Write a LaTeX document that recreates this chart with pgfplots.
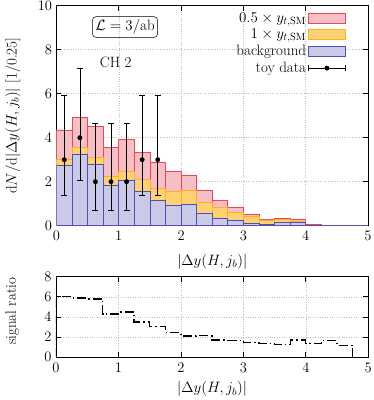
\RequirePackage{fix-cm}
\documentclass[border=0pt]{standalone}
\usepackage{fontspec}
\setmainfont{Latin Modern Roman}
\usepackage{pgfplots}
\pgfplotsset{compat=1.18}
\usepackage{pgfplotstable}
\definecolor{redfill}{RGB}{248,190,198}
\definecolor{rededge}{RGB}{238,70,80}
\definecolor{orfill}{RGB}{254,210,115}
\definecolor{oredge}{RGB}{255,176,30}
\definecolor{blfill}{RGB}{202,202,232}
\definecolor{bledge}{RGB}{80,80,180}
\newcommand{\lf}{\fontsize{15}{18}\selectfont}
\pgfplotstableread{
x red orange blue
0.00 4.35 3.02 2.74
0.25 4.92 3.56 3.26
0.50 4.53 3.11 2.80
0.75 3.56 2.26 1.85
1.00 3.94 2.47 2.08
1.25 3.33 2.11 1.56
1.50 2.88 1.70 1.17
1.75 2.45 1.58 0.94
2.00 2.27 1.60 0.98
2.25 1.62 1.06 0.56
2.50 1.17 0.83 0.33
2.75 0.83 0.61 0.26
3.00 0.53 0.44 0.12
3.25 0.30 0.26 0.08
3.50 0.33 0.27 0.17
3.75 0.28 0.22 0.15
4.00 0.06 0.02 0.01
4.25 0.03 0.01 0.005
4.50 0.00 0.00 0.00
4.75 0.00 0.00 0.00
5.00 0.00 0.00 0.00
}\hist
\pgfplotstableread{
x y ep em
0.125 3 2.92 1.63
0.375 4 3.16 1.92
0.625 2 2.64 1.29
0.875 2 2.64 1.29
1.125 2 2.64 1.29
1.375 3 2.92 1.63
1.625 3 2.92 1.63
}\toy
\pgfplotstableread{
x r
0.00 0.0
0.00 6.0
0.25 5.9
0.50 5.8
0.75 4.3
1.00 4.5
1.25 3.5
1.50 3.05
1.75 2.45
2.00 2.1
2.25 2.15
2.50 1.72
2.75 1.7
3.00 1.5
3.25 1.4
3.50 1.25
3.75 1.72
4.00 1.36
4.25 1.66
4.50 1.2
4.75 0.0
}\ratio
\pgfplotsset{
  myaxis/.style={
    scale only axis,
    anchor=south west,
    xmin=0, xmax=5,
    xtick={0,1,2,3,4,5},
    grid=major,
    grid style={dotted, gray!50, line width=0.5pt},
    axis line style={line width=0.9pt},
    tick style={line width=0.8pt, black},
    major tick length=5pt,
    tick align=inside,
    xticklabel style={yshift=-2pt},
    yticklabel style={xshift=-1pt},
    tick label style={font=\fontsize{14.5}{17}\selectfont},
    label style={font=\lf},
  },
  histlegend/.style={legend image code/.code={\draw[##1] (0pt,-5pt) rectangle (37pt,5pt);}},
}
\begin{document}
\begin{tikzpicture}[font=\lf]
\useasboundingbox (0,0) rectangle (374pt,400pt);
\begin{axis}[myaxis,
  at={(56.5pt,174.3pt)}, width=311.5pt, height=220pt,
  ymin=0, ymax=10, ytick={0,2,4,6,8,10},
  xlabel={$|\Delta y(H,j_b)|$},
  xlabel style={at={(axis description cs:0.5,-0.165)}, anchor=center},
  ylabel={$\mathrm{d}N/\mathrm{d}|\Delta y(H,j_b)|$ [1/0.25]},
  ylabel style={at={(axis description cs:-0.14,0.5)}, anchor=center},
  legend plot pos=right,
  legend cell align=right,
  legend style={at={(axis description cs:1,1)}, anchor=north east, xshift=-19pt, yshift=-3pt,
    draw=none, fill=none, row sep=1pt, nodes={inner sep=2pt, font=\lf}, font=\lf},
]
\addplot[ybar interval, fill=redfill, draw=rededge, line width=0.7pt, histlegend] table[x=x, y=red] {\hist};
\addlegendentry{\lf $0.5\times y_{t,\mathrm{SM}}$}
\addplot[ybar interval, fill=orfill, draw=oredge, line width=0.7pt, histlegend] table[x=x, y=orange] {\hist};
\addlegendentry{\lf $1\times y_{t,\mathrm{SM}}$}
\addplot[ybar interval, fill=blfill, draw=bledge, line width=0.7pt, histlegend] table[x=x, y=blue] {\hist};
\addlegendentry{\lf background}
\addplot[only marks, mark=*, mark size=2.2pt, black,
  legend image code/.code={\draw[black, line width=0.7pt] (0pt,0pt) -- (37pt,0pt); \draw[black, line width=0.7pt] (0pt,-3pt) -- (0pt,3pt); \draw[black, line width=0.7pt] (37pt,-3pt) -- (37pt,3pt); \fill[black] (18.5pt,0pt) circle (2.2pt);},
  error bars/.cd, y dir=both, y explicit,
  error bar style={black, line width=0.7pt},
  error mark options={rotate=90, mark size=3pt, line width=0.7pt}]
  table[x=x, y=y, y error plus=ep, y error minus=em] {\toy};
\addlegendentry{\lf toy data}
\node[draw, rounded corners=4pt, inner sep=3pt, line width=0.5pt, font=\lf] at (axis cs:1.10,9.03) {$\mathcal{L}=3/\mathrm{ab}$};
\node[font=\lf] at (axis cs:0.95,7.43) {CH 2};
\end{axis}
\begin{axis}[myaxis,
  at={(56pt,42.7pt)}, width=312.3pt, height=80.6pt,
  ymin=0, ymax=8, ytick={0,2,4,6,8},
  xlabel={$|\Delta y(H,j_b)|$},
  xlabel style={at={(axis description cs:0.5,-0.395)}, anchor=center},
  ylabel={signal ratio},
  ylabel style={at={(axis description cs:-0.14,0.57)}, anchor=center},
]
\addplot[const plot, black, line width=1.3pt, dash pattern=on 9pt off 3pt on 1.5pt off 3pt] table[x=x, y=r] {\ratio};
\end{axis}
\end{tikzpicture}
\end{document}
